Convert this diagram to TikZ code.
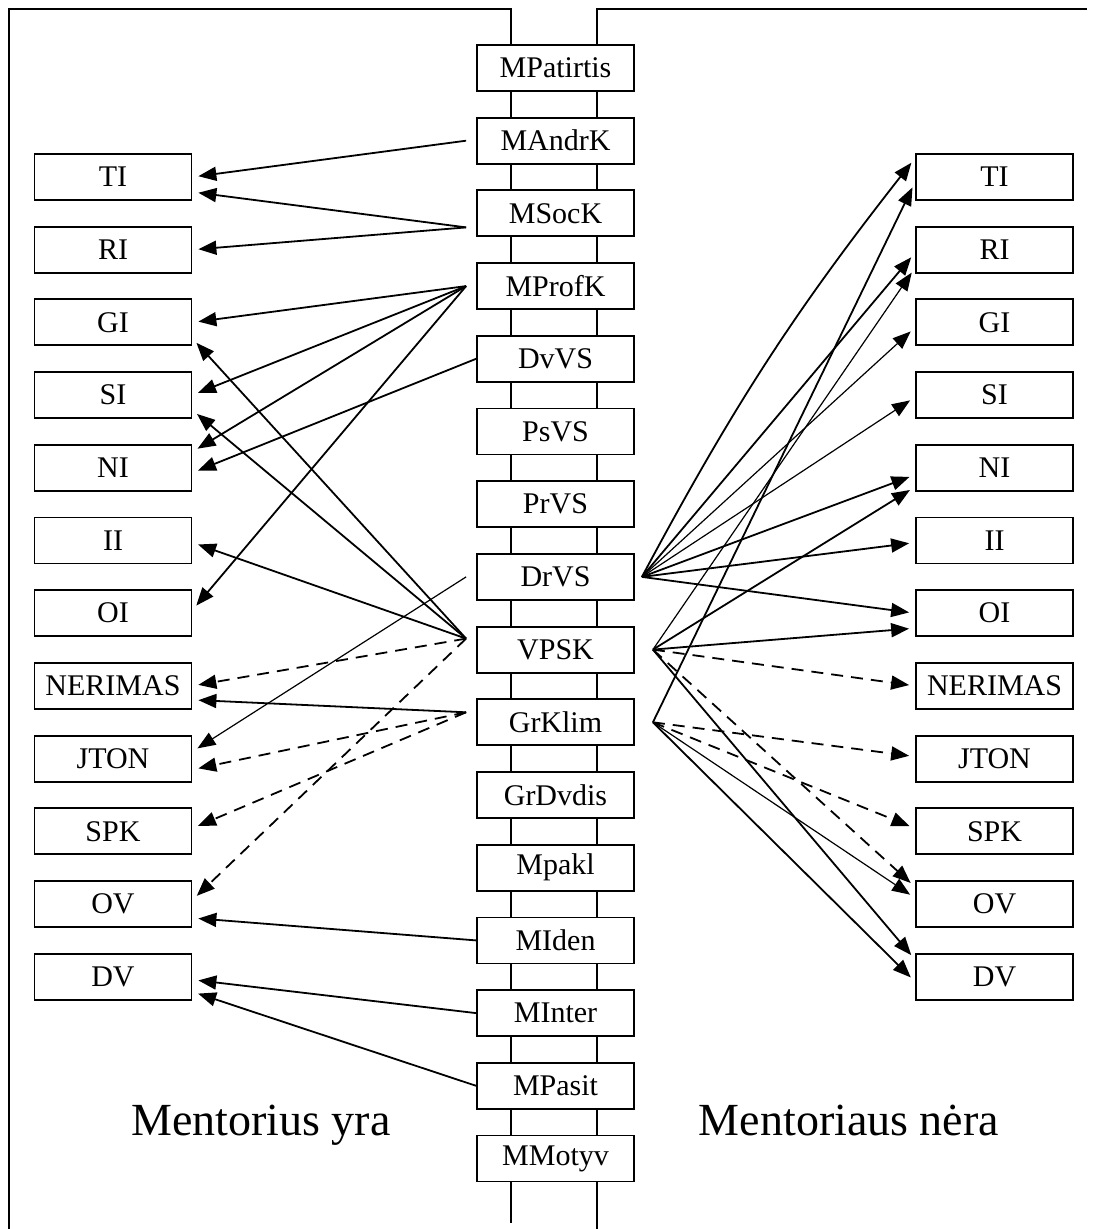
\documentclass[tikz,border=0pt]{standalone}
\usepackage{fontspec}
\setmainfont{Liberation Serif}
\usetikzlibrary{arrows.meta,positioning}

\begin{document}
\begin{tikzpicture}[x=0.5pt,y=-0.5pt,>={Triangle[length=9pt,width=7pt]},
        shorten >=3pt,node distance=36.35pt,line width=0.9pt,
        main node/.style={rectangle,draw,fill=white,minimum width=78.5pt,
          minimum height=23pt,inner sep=0pt,font=\fontsize{15}{18}\selectfont},
        side label/.style={anchor=base,font=\fontsize{23}{27}\selectfont},
        dash line/.style={dash pattern=on 6pt off 4pt},
        thin line/.style={line width=0.6pt}]
        \useasboundingbox (0,0) rectangle (1093,1229);
        % frame and rails
        \draw (9,1229) -- (9,9) -- (511,9) -- (511,1229);
        \draw (597,1229) -- (597,9) -- (1093,9);
        % middle column
        \node[main node] (cPat) at (555.5,68) {MPatirtis};
        \node[main node] (cAndr) [below of=cPat] {MAndrK};
        \node[main node] (cSoc) [below of=cAndr] {MSocK};
        \node[main node] (cProf) [below of=cSoc] {MProfK};
        \node[main node] (cDv) [below of=cProf] {DvVS};
        \node[main node] (cPs) [below of=cDv] {PsVS};
        \node[main node] (cPr) [below of=cPs] {PrVS};
        \node[main node] (cDr) [below of=cPr] {DrVS};
        \node[main node] (cVP) [below of=cDr] {VPSK};
        \node[main node] (cGrK) [below of=cVP] {GrKlim};
        \node[main node] (cGrD) [below of=cGrK] {GrDvdis};
        \node[main node] (cPakl) [below of=cGrD] {Mpakl};
        \node[main node] (cIden) [below of=cPakl] {MIden};
        \node[main node] (cInter) [below of=cIden] {MInter};
        \node[main node] (cPasit) [below of=cInter] {MPasit};
        \node[main node] (cMot) [below of=cPasit] {MMotyv};
        % left column
        \node[main node] (lTI) at (113,177) {TI};
        \node[main node] (lRI) [below of=lTI] {RI};
        \node[main node] (lGI) [below of=lRI] {GI};
        \node[main node] (lSI) [below of=lGI] {SI};
        \node[main node] (lNI) [below of=lSI] {NI};
        \node[main node] (lII) [below of=lNI] {II};
        \node[main node] (lOI) [below of=lII] {OI};
        \node[main node] (lNER) [below of=lOI] {NERIMAS};
        \node[main node] (lJT) [below of=lNER] {JTON};
        \node[main node] (lSPK) [below of=lJT] {SPK};
        \node[main node] (lOV) [below of=lSPK] {OV};
        \node[main node] (lDV) [below of=lOV] {DV};
        % right column
        \node[main node] (rTI) at (994.5,177) {TI};
        \node[main node] (rRI) [below of=rTI] {RI};
        \node[main node] (rGI) [below of=rRI] {GI};
        \node[main node] (rSI) [below of=rGI] {SI};
        \node[main node] (rNI) [below of=rSI] {NI};
        \node[main node] (rII) [below of=rNI] {II};
        \node[main node] (rOI) [below of=rII] {OI};
        \node[main node] (rNER) [below of=rOI] {NERIMAS};
        \node[main node] (rJT) [below of=rNER] {JTON};
        \node[main node] (rSPK) [below of=rJT] {SPK};
        \node[main node] (rOV) [below of=rSPK] {OV};
        \node[main node] (rDV) [below of=rOV] {DV};
        \node[side label] (lLab) at (261,1135) {Mentorius yra};
        \node[side label] (rLab) at (849,1135) {Mentoriaus nėra};
        % meeting points of the fans
        \coordinate (andrL) at ([xshift=-5pt]cAndr.west);
        \coordinate (socL) at ([xshift=-5pt,yshift=-7pt]cSoc.west);
        \coordinate (profL) at ([xshift=-5pt]cProf.west);
        \coordinate (drL) at ([xshift=-5pt]cDr.west);
        \coordinate (vpL) at ([xshift=-5pt,yshift=5.5pt]cVP.west);
        \coordinate (grkL) at ([xshift=-5pt,yshift=5pt]cGrK.west);
        \coordinate (drR) at ([xshift=3.5pt]cDr.east);
        \coordinate (vpR) at ([xshift=9pt]cVP.east);
        \coordinate (grkR) at ([xshift=9pt]cGrK.east);
        % mentor present
        \path[->]
        (andrL) edge (lTI.east)
        (socL) edge ([yshift=-7.5pt]lTI.east)
        (socL) edge (lRI.east)
        (profL) edge (lGI.east)
        (profL) edge (lSI.east)
        (profL) edge ([yshift=8pt]lNI.east)
        (profL) edge ([yshift=1.5pt]lOI.east)
        (cDv.west) edge ([yshift=-2.5pt]lNI.east)
        (vpL) edge ([yshift=-8pt]lGI.east)
        (vpL) edge ([yshift=-7.5pt]lSI.east)
        (vpL) edge ([yshift=-1pt]lII.east)
        (vpL) edge[dash line] (lNER.east)
        (grkL) edge ([yshift=-7pt]lNER.east)
        (drL) edge[thin line] ([yshift=3.5pt]lJT.east)
        (grkL) edge[dash line] ([yshift=-5.5pt]lJT.east)
        (grkL) edge[dash line] ([yshift=1.5pt]lSPK.east)
        (vpL) edge[dash line] ([yshift=2pt]lOV.east)
        (cIden.west) edge ([yshift=-7pt]lOV.east)
        (cInter.west) edge ([yshift=-1.5pt]lDV.east)
        (cPasit.west) edge ([yshift=-7.5pt]lDV.east)
        ;
        % mentor absent
        \path[->]
        (drR) edge[bend left=5] ([yshift=9.5pt]rTI.west)
        (grkR) edge ([yshift=-2.5pt]rTI.west)
        (drR) edge ([yshift=-1.5pt]rRI.west)
        (vpR) edge[thin line] ([yshift=-9pt]rRI.west)
        (drR) edge[thin line] ([yshift=-2.5pt]rGI.west)
        (drR) edge[thin line] ([yshift=-1pt]rSI.west)
        (drR) edge ([yshift=-3.5pt]rNI.west)
        (vpR) edge ([yshift=-9.5pt]rNI.west)
        (drR) edge ([yshift=-1pt]rII.west)
        (drR) edge (rOI.west)
        (vpR) edge ([yshift=-7.5pt]rOI.west)
        (vpR) edge[dash line] (rNER.west)
        (grkR) edge[dash line] ([yshift=1pt]rJT.west)
        (grkR) edge[dash line] ([yshift=1.5pt]rSPK.west)
        (vpR) edge[dash line] ([yshift=8.5pt]rOV.west)
        (grkR) edge[thin line] ([yshift=3pt]rOV.west)
        (vpR) edge ([yshift=8.5pt]rDV.west)
        (grkR) edge ([yshift=-2.5pt]rDV.west)
        ;
\end{tikzpicture}
\end{document}
